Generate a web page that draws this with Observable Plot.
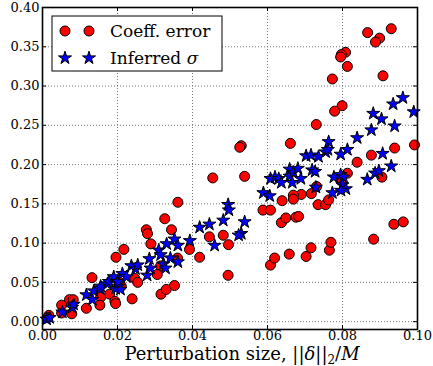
<!DOCTYPE html>
<html>
<head>
<meta charset="utf-8">
<script src="https://cdn.jsdelivr.net/npm/d3@7"></script>
<script src="https://cdn.jsdelivr.net/npm/@observablehq/plot@0.6"></script>
<style>
  html, body { margin: 0; padding: 0; background: #fff; }
  #chart { width: 433px; height: 366px; }
  #chart svg, #chart svg text, #chart svg tspan { font-family: "DejaVu Serif", "Liberation Serif", serif !important; }
</style>
</head>
<body>
<div id="chart"></div>
<script>
// Coeff. error (red circles): [x, y]
const coeffError = [
  [0.0930,0.373],[0.0867,0.368],[0.0899,0.361],[0.0888,0.356],[0.0808,0.343],[0.0797,0.340],
  [0.0795,0.337],[0.0813,0.325],[0.0773,0.309],[0.0908,0.313],[0.0799,0.275],[0.0779,0.268],
  [0.0730,0.251],[0.0661,0.227],[0.0530,0.224],[0.0526,0.222],[0.0939,0.221],[0.0992,0.225],
  [0.0877,0.212],[0.0839,0.203],[0.0454,0.183],[0.0539,0.185],[0.0813,0.189],[0.0905,0.184],
  [0.0795,0.180],[0.0731,0.172],[0.0717,0.163],[0.0690,0.162],[0.0669,0.161],[0.0669,0.156],
  [0.0639,0.154],[0.0735,0.149],[0.0755,0.149],[0.0763,0.155],[0.0588,0.142],[0.0608,0.142],
  [0.0637,0.126],[0.0649,0.132],[0.0676,0.133],[0.0683,0.134],[0.0482,0.110],[0.0496,0.098],
  [0.0495,0.059],[0.0608,0.072],[0.0619,0.081],[0.0658,0.086],[0.0703,0.083],[0.0716,0.094],
  [0.0765,0.091],[0.0769,0.101],[0.0883,0.105],[0.0937,0.124],[0.0962,0.127],[0.0445,0.108],
  [0.0392,0.092],[0.0419,0.082],[0.0361,0.152],[0.0326,0.131],[0.0277,0.117],[0.0280,0.112],
  [0.0344,0.117],[0.0289,0.099],[0.0217,0.092],[0.0196,0.082],[0.0360,0.081],[0.0132,0.056],
  [0.0315,0.071],[0.0306,0.060],[0.0246,0.055],[0.0206,0.050],[0.0210,0.045],[0.0316,0.035],
  [0.0330,0.041],[0.0352,0.046],[0.0239,0.029],[0.0179,0.035],[0.0193,0.026],[0.0195,0.023],
  [0.0155,0.031],[0.0117,0.017],[0.0153,0.021],[0.0072,0.028],[0.0082,0.028],[0.0051,0.021],
  [0.0051,0.011],[0.0078,0.010],[0.0017,0.008],[0.0014,0.005],[0.0254,0.050]
];
// Inferred sigma (blue stars): [x, y]
const inferredSigma = [
  [0.0011,0.003],[0.0019,0.005],[0.0053,0.012],[0.0079,0.018],[0.0083,0.022],[0.0117,0.034],
  [0.0133,0.028],[0.0137,0.039],[0.0153,0.042],[0.0155,0.045],[0.0173,0.048],[0.0177,0.051],
  [0.0190,0.057],[0.0203,0.049],[0.0203,0.045],[0.0195,0.042],[0.0208,0.041],[0.0201,0.051],
  [0.0213,0.061],[0.0224,0.057],[0.0237,0.071],[0.0248,0.067],[0.0254,0.072],[0.0279,0.059],
  [0.0288,0.068],[0.0285,0.080],[0.0310,0.091],[0.0315,0.085],[0.0322,0.073],[0.0328,0.068],
  [0.0341,0.081],[0.0361,0.076],[0.0331,0.099],[0.0352,0.105],[0.0361,0.097],[0.0393,0.103],
  [0.0419,0.120],[0.0445,0.124],[0.0459,0.097],[0.0482,0.129],[0.0495,0.149],[0.0497,0.142],
  [0.0539,0.127],[0.0530,0.112],[0.0523,0.110],[0.0589,0.164],[0.0606,0.160],[0.0608,0.182],
  [0.0620,0.184],[0.0630,0.182],[0.0637,0.177],[0.0659,0.185],[0.0666,0.177],[0.0659,0.194],
  [0.0669,0.190],[0.0681,0.195],[0.0689,0.182],[0.0703,0.211],[0.0716,0.212],[0.0719,0.193],
  [0.0727,0.191],[0.0729,0.171],[0.0736,0.210],[0.0755,0.216],[0.0763,0.229],[0.0761,0.219],
  [0.0777,0.184],[0.0773,0.164],[0.0795,0.213],[0.0795,0.187],[0.0803,0.184],[0.0813,0.219],
  [0.0800,0.174],[0.0809,0.169],[0.0796,0.167],[0.0839,0.234],[0.0866,0.181],[0.0887,0.189],
  [0.0897,0.192],[0.0877,0.244],[0.0882,0.265],[0.0904,0.258],[0.0907,0.214],[0.0930,0.198],
  [0.0935,0.277],[0.0961,0.285],[0.0990,0.267],[0.0939,0.249]
];
const xTicks = [0, 0.02, 0.04, 0.06, 0.08, 0.10];
const yTicks = [0, 0.05, 0.10, 0.15, 0.20, 0.25, 0.30, 0.35, 0.40];
const legendLabels = ["Coeff. error", "Inferred "];
const xDomain = [0, 0.10];
const yDomain = [-0.01, 0.40];

const W = 433, H = 366, mL = 42, mR = 16, mT = 7, mB = 37;
const innerW = W - mL - mR, innerH = H - mT - mB;
const font = "DejaVu Serif, Liberation Serif, serif";

const plot = Plot.plot({
  width: W, height: H,
  marginLeft: mL, marginRight: mR, marginTop: mT, marginBottom: mB,
  style: {fontSize: "13px", color: "#000", background: "#fff"},
  x: {domain: xDomain},
  y: {domain: yDomain},
  marks: [
    Plot.ruleX(xTicks, {stroke: "#777", strokeWidth: 1, strokeDasharray: "1,2"}),
    Plot.ruleY(yTicks, {stroke: "#777", strokeWidth: 1, strokeDasharray: "1,2"}),
    // inward tick marks on all four sides
    Plot.ruleX(xTicks, {stroke: "#000", insetTop: innerH - 4}),
    Plot.ruleX(xTicks, {stroke: "#000", insetBottom: innerH - 4}),
    Plot.ruleY(yTicks, {stroke: "#000", insetRight: innerW - 4}),
    Plot.ruleY(yTicks, {stroke: "#000", insetLeft: innerW - 4}),
    Plot.dot(coeffError, {x: d => d[0], y: d => d[1], r: 5, fill: "#ff0000", stroke: "#000", strokeWidth: 1}),
    Plot.dot(inferredSigma, {x: d => d[0], y: d => d[1], symbol: "star", r: 4.1, fill: "#0000ff", stroke: "#000", strokeWidth: 1}),
    Plot.frame({stroke: "#000", strokeWidth: 1.6}),
    Plot.axisX(xTicks, {tickSize: 0, tickPadding: 1, tickFormat: d3.format(".2f"), label: null, fontSize: 13}),
    Plot.axisY(yTicks, {tickSize: 0, tickPadding: 3, tickFormat: d3.format(".2f"), label: null, fontSize: 13})
  ]
});

const svg = d3.select(plot);
// x-axis label with math parts
const xl = svg.append("text")
  .attr("x", 242).attr("y", 360)
  .attr("text-anchor", "middle")
  .attr("font-family", font).attr("font-size", 18).attr("fill", "#000");
xl.append("tspan").text("Perturbation size, ||");
xl.append("tspan").attr("font-style", "italic").text("δ");
xl.append("tspan").text("||");
xl.append("tspan").attr("font-size", 12).attr("dy", 4).text("2");
xl.append("tspan").attr("dy", -4).text("/");
xl.append("tspan").attr("font-style", "italic").text("M");

// legend
const lg = svg.append("g");
lg.append("rect").attr("x", 52).attr("y", 16).attr("width", 170).attr("height", 55)
  .attr("fill", "#fff").attr("stroke", "#000").attr("stroke-width", 1);
const circ = d3.symbol(d3.symbolCircle, Math.PI * 25)();
const star = d3.symbol(d3.symbolStar, Math.PI * 4.1 * 4.1)();
[65, 89].forEach(cx => {
  lg.append("path").attr("d", circ).attr("transform", `translate(${cx},31)`)
    .attr("fill", "#ff0000").attr("stroke", "#000");
  lg.append("path").attr("d", star).attr("transform", `translate(${cx},58)`)
    .attr("fill", "#0000ff").attr("stroke", "#000");
});
lg.append("text").attr("x", 110).attr("y", 37).attr("text-anchor", "start").attr("font-family", font)
  .attr("font-size", 17).attr("fill", "#000").text(legendLabels[0]);
const t2 = lg.append("text").attr("x", 110).attr("y", 64).attr("text-anchor", "start").attr("font-family", font)
  .attr("font-size", 17).attr("fill", "#000");
t2.append("tspan").text(legendLabels[1]);
t2.append("tspan").attr("font-style", "italic").text("σ");

document.getElementById("chart").appendChild(plot);
</script>
</body>
</html>
